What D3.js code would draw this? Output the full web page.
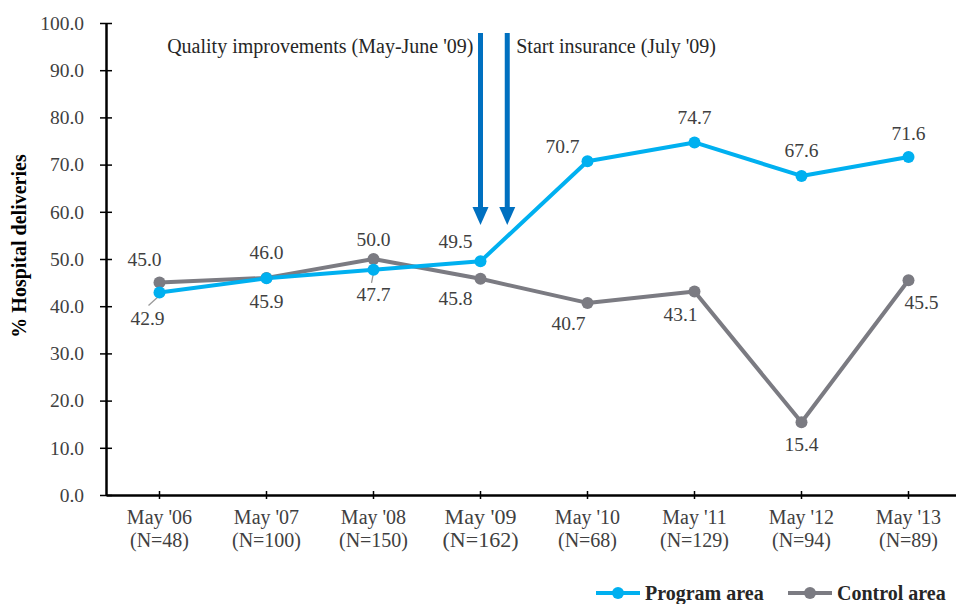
<!DOCTYPE html>
<html>
<head>
<meta charset="utf-8">
<script src="https://cdn.jsdelivr.net/npm/d3@7"></script>
<style>
  body { margin: 0; background: #fff; }
  svg { display: block; font-family: "Liberation Serif", "DejaVu Serif", serif; }
  .lbl { fill: #404040; }
</style>
</head>
<body>
<div id="chart"></div>
<script>
// survey rounds and sample sizes
var rounds = ["May '06", "May '07", "May '08", "May '09", "May '10", "May '11", "May '12", "May '13"];
var sampleN = [48, 100, 150, 162, 68, 129, 94, 89];

// % hospital deliveries
var programArea = [42.9, 45.9, 47.7, 49.5, 70.7, 74.7, 67.6, 71.6];
var controlArea = [45.0, 46.0, 50.0, 45.8, 40.7, 43.1, 15.4, 45.5];

var yTicks = [0, 10, 20, 30, 40, 50, 60, 70, 80, 90, 100];

// events, offset in years from May '09
var events = [
  {text: "Quality improvements (May-June '09)", offset: 0, side: "left"},
  {text: "Start insurance (July '09)", offset: 0.25, side: "right"}
];

// label placement around points [dx, dy]
var programLabelPos = [[-12, 26], [0, 23], [0, 25], [-25, -20], [-25, -15], [0, -25], [0, -25], [0, -24]];
var controlLabelPos = [[-15, -23], [0, -25], [0, -20], [-25, 20], [-19, 21], [-14, 23], [0, 22], [13, 22]];

var width = 956, height = 604;
var margin = {left: 106, top: 23, bottom: 109};

var svg = d3.select("#chart").append("svg")
  .attr("width", width)
  .attr("height", height);

var x = d3.scaleBand()
  .domain(rounds)
  .range([margin.left, margin.left + 107 * 8]);

var y = d3.scaleLinear()
  .domain([0, 100])
  .range([height - margin.bottom, margin.top]);

function cx(i) { return x(rounds[i]) + x.bandwidth() / 2; }

// y axis
var yAxis = svg.append("g")
  .attr("transform", "translate(" + margin.left + ",0)")
  .call(d3.axisLeft(y).tickValues(yTicks).tickFormat(d3.format(".1f")).tickSizeOuter(0).tickPadding(16))
  .attr("font-family", null)
  .attr("font-size", null);
yAxis.select(".domain").attr("stroke", "#000").attr("stroke-width", 2.5);
yAxis.selectAll(".tick line").attr("x1", -6).attr("x2", 6).attr("stroke", "#000").attr("stroke-width", 1.5);
yAxis.selectAll(".tick text").style("font-size", "19.5px").attr("fill", "#404040");

// x axis
var xAxis = svg.append("g")
  .attr("transform", "translate(0," + y(0) + ")")
  .call(d3.axisBottom(x).tickSizeOuter(0).tickFormat(""));
xAxis.select(".domain").attr("stroke", "#000").attr("stroke-width", 2.5);
xAxis.selectAll(".tick line").attr("y1", -4).attr("y2", 4).attr("stroke", "#000").attr("stroke-width", 1.5);

rounds.forEach(function(r, i) {
  var big = r === "May '09";
  var t = svg.append("text")
    .attr("class", "lbl")
    .attr("text-anchor", "middle")
    .style("font-size", big ? "22px" : "20px")
    .attr("x", cx(i))
    .attr("y", y(0) + 29);
  t.append("tspan").attr("x", cx(i)).text(r);
  t.append("tspan").attr("x", cx(i)).attr("dy", 23).text("(N=" + sampleN[i] + ")");
});

// y label
svg.append("text")
  .attr("transform", "translate(19,246) rotate(-90)")
  .attr("text-anchor", "middle")
  .attr("dominant-baseline", "central")
  .style("font-size", "20px")
  .attr("font-weight", "bold")
  .attr("fill", "#000")
  .text("% Hospital deliveries");

// event arrows
var arrowColor = "#0070C0";
events.forEach(function(ev) {
  var ax = cx(3) + ev.offset * x.step();
  svg.append("rect")
    .attr("x", ax - 2.5).attr("y", 33)
    .attr("width", 5).attr("height", 207 - 33)
    .attr("fill", arrowColor);
  svg.append("path")
    .attr("d", "M" + (ax - 8) + ",207 L" + (ax + 8) + ",207 L" + ax + "," + y(57.2) + "Z")
    .attr("fill", arrowColor);
  svg.append("text")
    .attr("class", "lbl")
    .style("font-size", "20px")
    .style("fill", "#262626")
    .attr("text-anchor", ev.side === "left" ? "end" : "start")
    .attr("x", ev.side === "left" ? ax - 7 : ax + 9)
    .attr("y", 53)
    .text(ev.text);
});

var series = [
  {name: "Program area", values: programArea, color: "#00B0F0", pos: programLabelPos},
  {name: "Control area", values: controlArea, color: "#7B7B82", pos: controlLabelPos}
];

var line = d3.line()
  .x(function(d, i) { return cx(i); })
  .y(function(d) { return y(d); });

// leader lines for crowded labels
var leaders = [[0, 0, -11, 10], [0, 2, -2, 10]];
leaders.forEach(function(l) {
  var s = series[l[0]], i = l[1];
  svg.append("line")
    .attr("x1", cx(i)).attr("y1", y(s.values[i]) + 3)
    .attr("x2", cx(i) + l[2]).attr("y2", y(s.values[i]) + 3 + l[3])
    .attr("stroke", "#999").attr("stroke-width", 1.3);
});

series.slice().reverse().forEach(function(s) {
  svg.append("path")
    .datum(s.values)
    .attr("fill", "none")
    .attr("stroke", s.color)
    .attr("stroke-width", 4)
    .attr("stroke-linejoin", "round")
    .attr("d", line);
});
series.slice().reverse().forEach(function(s) {
  svg.selectAll(null)
    .data(s.values)
    .enter().append("circle")
    .attr("cx", function(d, i) { return cx(i); })
    .attr("cy", function(d) { return y(d); })
    .attr("r", 6)
    .attr("fill", s.color);
});

series.forEach(function(s) {
  svg.selectAll(null)
    .data(s.values)
    .enter().append("text")
    .attr("class", "lbl")
    .attr("text-anchor", "middle")
    .attr("dominant-baseline", "central")
    .style("font-size", "19.5px")
    .attr("x", function(d, i) { return cx(i) + s.pos[i][0]; })
    .attr("y", function(d, i) { return y(d) + s.pos[i][1]; })
    .text(function(d) { return d3.format(".1f")(d); });
});

// legend
var legendX = [596, 788];
series.forEach(function(s, i) {
  var g = svg.append("g").attr("transform", "translate(" + legendX[i] + ",593)");
  g.append("line").attr("x1", 0).attr("x2", 44).attr("stroke", s.color).attr("stroke-width", 4);
  g.append("circle").attr("cx", 22).attr("r", 6).attr("fill", s.color);
  g.append("text")
    .attr("x", 49)
    .attr("dominant-baseline", "central")
    .style("font-size", "20px")
    .attr("font-weight", "bold")
    .attr("fill", "#262626")
    .text(s.name);
});
</script>
</body>
</html>
